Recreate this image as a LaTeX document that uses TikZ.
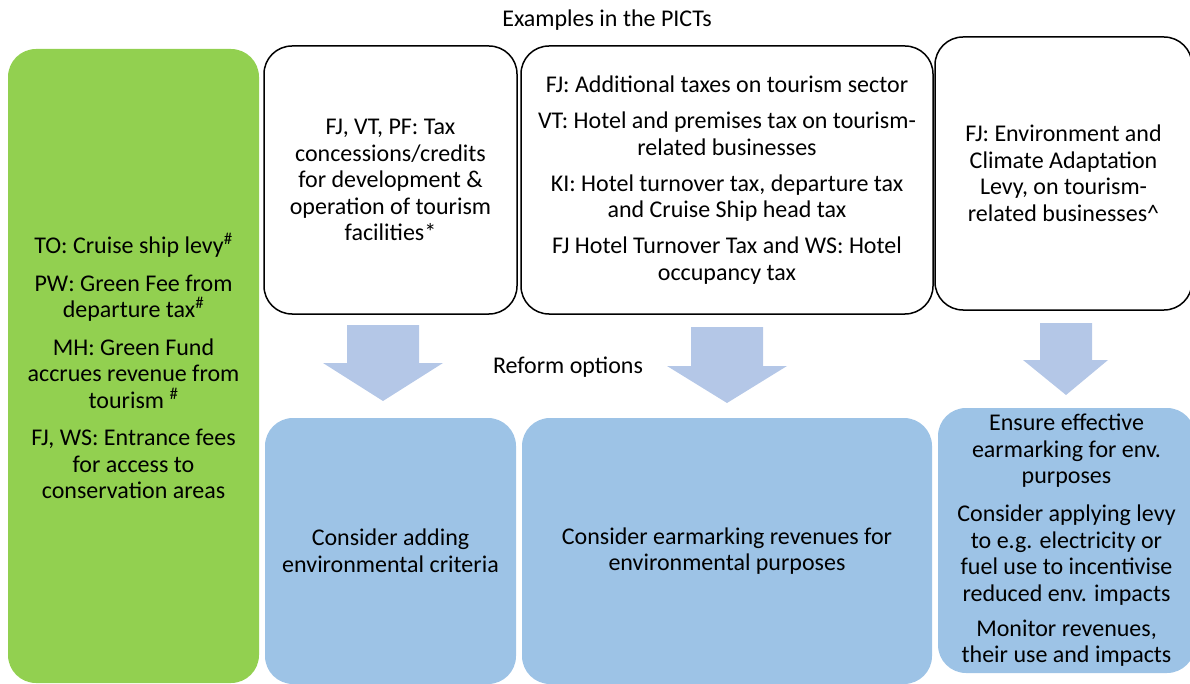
\documentclass[tikz,border=0pt]{standalone}
\usepackage{fontspec}
\setmainfont{Carlito}
\definecolor{greenbox}{HTML}{92D050}
\definecolor{bluebox}{HTML}{9DC3E6}
\definecolor{arrowblue}{HTML}{B4C7E7}
\tikzset{
  box/.style={rounded corners=28pt, align=center, inner sep=0pt, font=\fontsize{24}{26.5}\selectfont},
  examplebox/.style={box, draw=black, line width=1.5pt, fill=white},
  greenpanel/.style={box, fill=greenbox},
  bluepanel/.style={box, fill=bluebox},
  heading/.style={font=\fontsize{24}{26}\selectfont, inner sep=0pt},
  blockarrow/.style={fill=arrowblue}
}
\begin{document}
\begin{tikzpicture}[x=1pt,y=-1pt]
\useasboundingbox (0,0) rectangle (1190,684);
\clip (0,0) rectangle (1190,684);

% headings
\node[heading] (examples) at (607,20) {Examples in the PICTs};
\node[heading] (reform) at (568,367) {Reform options};

% green panel
\node[greenpanel, minimum width=251pt, minimum height=634pt] (green) at (133.5,366)
 {TO: Cruise ship levy\textsuperscript{\#}\\[11pt]
  PW: Green Fee from\\departure tax\textsuperscript{\#}\\[11pt]
  MH: Green Fund\\accrues revenue from\\tourism \textsuperscript{\#}\\[11pt]
  FJ, WS: Entrance fees\\for access to\\conservation areas};

% example boxes
\node[examplebox, minimum width=253pt, minimum height=268pt] (ex1) at (390.5,180)
 {FJ, VT, PF: Tax\\concessions/credits\\for development \&\\operation of tourism\\facilities*};
\node[examplebox, minimum width=412pt, minimum height=268pt] (ex2) at (727,180)
 {FJ: Additional taxes on tourism sector\\[9.5pt]
  VT: Hotel and premises tax on tourism-\\related businesses\\[9.5pt]
  KI: Hotel turnover tax, departure tax\\and Cruise Ship head tax\\[9.5pt]
  FJ Hotel Turnover Tax and WS: Hotel\\occupancy tax};
\node[examplebox, minimum width=257pt, minimum height=273pt] (ex3) at (1063.5,173.5)
 {FJ: Environment and\\Climate Adaptation\\Levy, on tourism-\\related businesses\textasciicircum};

% block arrows
\fill[blockarrow] (347,325) -- (419,325) -- (419,363) -- (443,363) -- (383,401) -- (323,363) -- (347,363) -- cycle;
\fill[blockarrow] (691,327) -- (763,327) -- (763,366) -- (787,366) -- (727,403) -- (667,366) -- (691,366) -- cycle;
\fill[blockarrow] (1040,323) -- (1092,323) -- (1092,360) -- (1108,360) -- (1066,395) -- (1023,360) -- (1040,360) -- cycle;

% reform option boxes
\node[bluepanel, minimum width=251pt, minimum height=266pt] (ro1) at (390.5,551)
 {Consider adding\\environmental criteria};
\node[bluepanel, minimum width=410pt, minimum height=266pt] (ro2) at (727,551)
 {Consider earmarking revenues for\\environmental purposes};
\node[bluepanel, minimum width=257pt, minimum height=265pt] (ro3) at (1066.5,540.5)
 {Ensure effective\\earmarking for env.\\purposes\\[11.5pt]
  Consider applying levy\\to e.g. electricity or\\fuel use to incentivise\\reduced env. impacts\\[8.5pt]
  Monitor revenues,\\their use and impacts};
\end{tikzpicture}
\end{document}
